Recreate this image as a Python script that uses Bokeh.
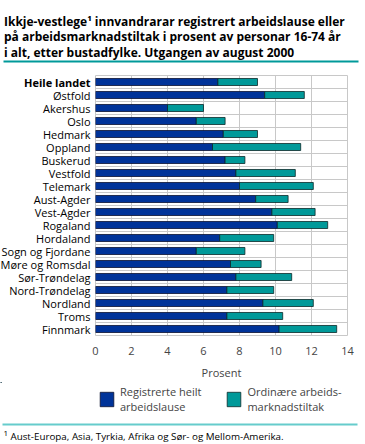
from bokeh.plotting import figure
from bokeh.layouts import column, row
from bokeh.models import Legend, LegendItem, FixedTicker, ColumnDataSource, Range1d
from bokeh.core.properties import value
from bokeh.embed import file_html
from bokeh.resources import INLINE

categories = ["Heile landet", "Østfold", "Akershus", "Oslo", "Hedmark", "Oppland",
              "Buskerud", "Vestfold", "Telemark", "Aust-Agder", "Vest-Agder",
              "Rogaland", "Hordaland", "Sogn og Fjordane", "Møre og Romsdal",
              "Sør-Trøndelag", "Nord-Trøndelag", "Nordland", "Troms", "Finnmark"]
registrerte = [6.8, 9.4, 4.0, 5.6, 7.1, 6.5, 7.2, 7.8, 8.0, 8.9, 9.8, 10.1,
               6.9, 5.6, 7.5, 7.8, 7.3, 9.3, 7.3, 10.2]
tiltak = [2.2, 2.2, 2.0, 1.6, 1.9, 4.9, 1.1, 3.3, 4.1, 1.8, 2.4, 2.8,
          3.0, 2.7, 1.7, 3.1, 2.6, 2.8, 3.1, 3.2]
x_ticks = [0, 2, 4, 6, 8, 10, 12, 14]
series_labels = ["Registrerte heilt\narbeidslause", "Ordinære arbeids-\nmarknadstiltak"]
title_lines = ["Ikkje-vestlege¹ innvandrarar registrert arbeidslause eller",
               "på arbeidsmarknadstiltak i prosent av personar 16-74 år",
               "i alt, etter bustadfylke. Utgangen av august 2000"]
footnote = "Aust-Europa, Asia, Tyrkia, Afrika og Sør- og Mellom-Amerika."

BLUE = "#003399"
TEAL = "#009999"
GRID = "#c8c8c8"
FONT = "Open Sans"

n = len(categories)
pos = [n - i - 0.5 for i in range(n)]
total = [a + b for a, b in zip(registrerte, tiltak)]
styles = ["bold" if c == "Heile landet" else "normal" for c in categories]
src = ColumnDataSource(dict(y=pos, name=categories, style=styles,
                            reg=registrerte, tot=total, zero=[0] * n))

W = 365
HEAD_H, ROW_H, FOOT_H = 68, 314, 62
LAB_W = 91
TOP, BOT = 7, 42


def blank(w, h):
    f = figure(width=w, height=h, output_backend="svg", toolbar_location=None,
               title=None, x_range=Range1d(0, w), y_range=Range1d(h, 0),
               x_axis_location=None, y_axis_location=None, min_border=0)
    f.grid.visible = False
    f.outline_line_color = None
    return f


# ---------------- header ----------------
head = blank(W, HEAD_H)
head.text(x=[3.5, 3.5, 3.5], y=[20.5, 36, 51.7], text=title_lines,
          text_font=value(FONT), text_font_size="12px", text_font_style="bold",
          text_baseline="alphabetic", text_color="black")
head.segment(x0=[3], y0=[61], x1=[358], y1=[61], line_color="#00999a", line_width=2)

# ---------------- category labels ----------------
y_rng = Range1d(0, n)
lab = figure(width=LAB_W, height=ROW_H, output_backend="svg", toolbar_location=None,
             title=None, x_range=Range1d(0, LAB_W), y_range=y_rng,
             x_axis_location=None, y_axis_location=None,
             min_border_left=0, min_border_right=0,
             min_border_top=TOP, min_border_bottom=BOT)
lab.grid.visible = False
lab.outline_line_color = None
lab.text(x=LAB_W - 1, y="y", text="name", source=src, text_align="right",
         text_baseline="middle", text_font=value(FONT), text_font_size="11px",
         text_font_style="style", text_color="black")

# ---------------- chart ----------------
p = figure(width=W - LAB_W, height=ROW_H, output_backend="svg", toolbar_location=None,
           title=None, x_range=Range1d(0, 14), y_range=y_rng, y_axis_location=None,
           min_border_left=4, min_border_right=18,
           min_border_top=TOP, min_border_bottom=BOT)
p.outline_line_color = GRID
p.hbar(y="y", left="zero", right="reg", height=0.54, source=src,
       fill_color=BLUE, line_color="#0a1030", line_width=0.8)
p.hbar(y="y", left="reg", right="tot", height=0.54, source=src,
       fill_color=TEAL, line_color="#0a2828", line_width=0.8)

p.xaxis.ticker = FixedTicker(ticks=x_ticks)
p.xaxis.axis_label = "Prosent"
p.xaxis.axis_label_text_font = FONT
p.xaxis.axis_label_text_font_style = "normal"
p.xaxis.axis_label_text_font_size = "11px"
p.xaxis.major_label_text_font = FONT
p.xaxis.major_label_text_font_size = "11px"
p.xaxis.major_tick_line_color = None
p.xaxis.minor_tick_line_color = None
p.xaxis.axis_line_color = None
p.xaxis.major_label_standoff = 5
p.xaxis.axis_label_standoff = 7

p.xgrid.ticker = FixedTicker(ticks=x_ticks)
p.xgrid.grid_line_color = GRID
p.ygrid.ticker = FixedTicker(ticks=list(range(n + 1)))
p.ygrid.grid_line_color = GRID

# ---------------- footer (legend + footnote) ----------------
foot = blank(W, FOOT_H)
dummy = ColumnDataSource(dict(y=[-1000], l=[0], r=[1]))
d1 = foot.hbar(y="y", left="l", right="r", height=1, source=dummy,
               fill_color=BLUE, line_color="#0a1030", line_width=0.8)
d2 = foot.hbar(y="y", left="l", right="r", height=1, source=dummy,
               fill_color=TEAL, line_color="#0a2828", line_width=0.8)
legend = Legend(items=[LegendItem(label=series_labels[0], renderers=[d1]),
                       LegendItem(label=series_labels[1], renderers=[d2])],
                orientation="horizontal", location=(98, 30), padding=0, margin=0,
                label_text_font=FONT, label_text_font_size="11px",
                label_standoff=5, glyph_width=17, glyph_height=18, spacing=24,
                border_line_color=None, background_fill_alpha=0)
foot.add_layout(legend, "center")
foot.segment(x0=[2], y0=[42], x1=[357], y1=[42], line_color="#66cccc", line_width=2)
foot.text(x=[3], y=[50.5], text=["1"], text_font=value(FONT), text_font_size="8px",
          text_baseline="alphabetic", text_color="black")
foot.text(x=[10], y=[54], text=[footnote], text_font=value(FONT), text_font_size="9.8px",
          text_baseline="alphabetic", text_color="black")

layout = column(head, row(lab, p), foot)
open("out.html", "w").write(file_html(layout, INLINE))
